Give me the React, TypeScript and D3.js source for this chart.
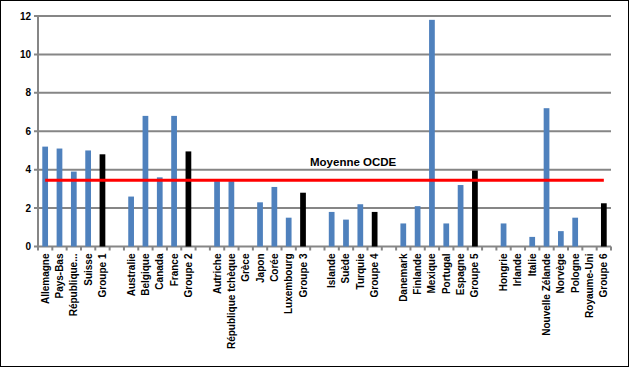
import React from "react";
import * as d3 from "d3";

const categories: string[] = [
  "Allemagne", "Pays-Bas", "République...", "Suisse", "Groupe 1", "",
  "Australie", "Belgique", "Canada", "France", "Groupe 2", " ",
  "Autriche", "République tchèque", "Grèce", "Japon", "Corée", "Luxembourg", "Groupe 3", "  ",
  "Islande", "Suède", "Turquie", "Groupe 4", "   ",
  "Danemark", "Finlande", "Mexique", "Portugal", "Espagne", "Groupe 5", "    ",
  "Hongrie", "Irlande", "Italie", "Nouvelle Zélande", "Norvège", "Pologne", "Royaume-Uni", "Groupe 6",
];
const values: (number | null)[] = [
  5.2, 5.1, 3.9, 5.0, 4.8, null,
  2.6, 6.8, 3.6, 6.8, 4.95, null,
  3.4, 3.4, 0, 2.3, 3.1, 1.5, 2.8, null,
  1.8, 1.4, 2.2, 1.8, null,
  1.2, 2.1, 11.8, 1.2, 3.2, 3.95, null,
  1.2, 0, 0.5, 7.2, 0.8, 1.5, 0, 2.25,
];
const yTicks: number[] = [0, 2, 4, 6, 8, 10, 12];
const oecdMean = 3.45;
const oecdLabel = "Moyenne OCDE";

export default function App() {
  const W = 629, H = 367;
  const left = 38, right = 611, top = 16, bottom = 246.5;
  const x = d3.scaleBand<string>().domain(categories).range([left, right]).paddingInner(0).paddingOuter(0);
  const y = d3.scaleLinear().domain([0, 12]).range([bottom, top]);
  const bw = x.bandwidth();
  const barW = bw * 0.4;
  const grid = "#868686";
  const font = "'Liberation Sans', Arial, sans-serif";
  const first = categories[0];
  const last = categories[categories.length - 1];
  return (
    <svg width={W} height={H} style={{ position: "absolute", left: 0, top: 0 }} fontFamily={font}>
      <rect x={0.5} y={0.5} width={W - 1} height={H - 1} fill="white" stroke="black" strokeWidth={1} />
      {yTicks.map((t) => (
        <g key={t}>
          <line x1={left - 4} x2={right} y1={y(t)} y2={y(t)} stroke={grid} strokeWidth={2} />
          <text x={31} y={y(t)} dy="0.35em" textAnchor="end" fontSize={10} fontWeight="bold">{t}</text>
        </g>
      ))}
      <line x1={left} x2={left} y1={top} y2={bottom} stroke={grid} strokeWidth={2} />
      {categories.map((c, i) => (
        <line key={"t" + i} x1={x(c)!} x2={x(c)!} y1={bottom} y2={bottom + 4} stroke={grid} strokeWidth={2} />
      ))}
      <line x1={right} x2={right} y1={bottom} y2={bottom + 4} stroke={grid} strokeWidth={2} />
      {categories.map((c, i) => {
        const v = values[i];
        if (v == null || v === 0) return null;
        const isGroup = c.startsWith("Groupe");
        return (
          <rect key={"b" + i} x={x(c)! + (bw - barW) / 2} y={y(v)} width={barW} height={y(0) - y(v)}
            fill={isGroup ? "#000000" : "#4f81bd"} />
        );
      })}
      <line x1={x(first)! + bw / 2} x2={x(last)! + bw / 2} y1={y(oecdMean)} y2={y(oecdMean)} stroke="#ff0000" strokeWidth={3} />
      <text x={310} y={y(oecdMean) - 14} fontSize={11.5} fontWeight="bold">{oecdLabel}</text>
      {categories.map((c, i) => {
        const cx = x(c)! + bw / 2;
        return (
          <text key={"l" + i} transform={`translate(${cx},${bottom + 7}) rotate(-90)`} textAnchor="end" dy="0.35em"
            fontSize={10} fontWeight="bold">{c.trim()}</text>
        );
      })}
    </svg>
  );
}
